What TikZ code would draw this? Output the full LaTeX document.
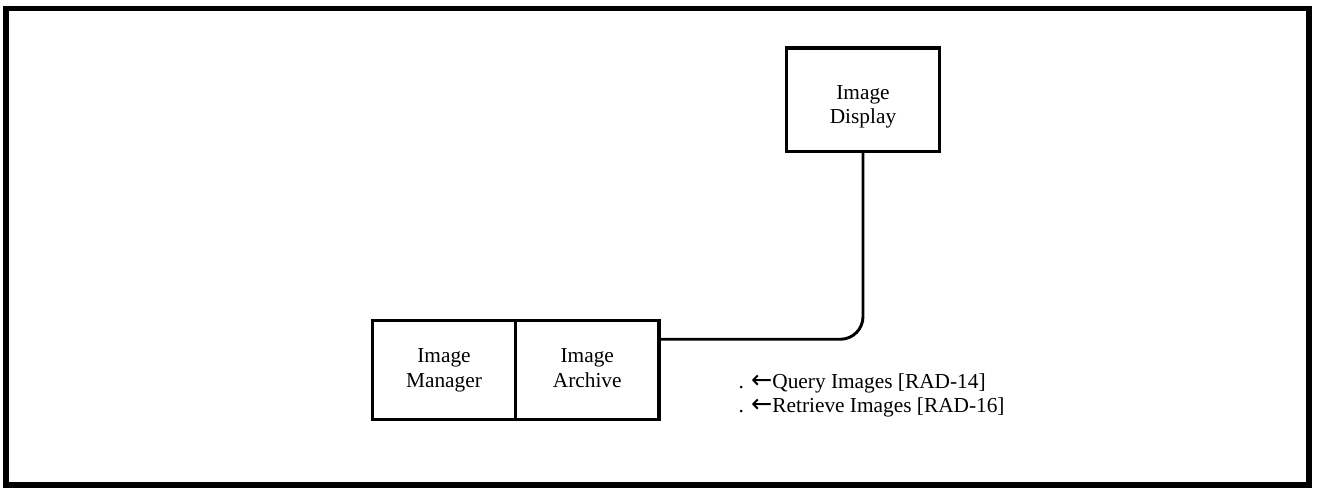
\documentclass[tikz,border=0pt]{standalone}
\usepackage{fontspec}
\setmainfont{Liberation Serif}
\newfontfamily\arrowfont{DejaVu Sans}
\usetikzlibrary{calc}
\definecolor{inkblack}{HTML}{000000}
\tikzset{
  actor/.style={draw=inkblack, line width=2.6pt, minimum height=74.25pt, align=center, inner sep=0pt},
  link/.style={line width=2.2pt, color=inkblack, rounded corners=17pt},
  frame/.style={line width=3.9pt, color=inkblack},
  every node/.append style={font=\fontsize{16}{18.5}\selectfont}
}
\newcommand{\larr}{{\arrowfont\fontsize{19}{18}\selectfont\char"2190}}

\begin{document}
\begin{tikzpicture}[x=0.75pt, y=-0.75pt]
\useasboundingbox (0,0) rectangle (1318,487);
\draw[frame] (6,8.5) rectangle (1309,485);
\node[actor, minimum width=107.25pt] (mgr) at (444,370) {Image\strut\\Manager\strut};
\node[actor, minimum width=107.6pt] (arch) at (587.25,370) {Image\strut\\Archive\strut};
\node[actor, minimum width=114.75pt, minimum height=77.6pt] (disp) at (863,99.75)
  {\raisebox{-5pt}[\height][\depth]{\begin{tabular}{@{}c@{}}Image\\Display\end{tabular}}};
\coordinate (out) at ($(arch.north east)!0.2!(arch.south east)$);
\draw[link] (out) -| (disp.south);
\node[anchor=west, align=left, font=\fontsize{16}{18}\selectfont] (msgs) at (734,395)
  {. \larr Query Images [RAD-14]\\. \larr Retrieve Images [RAD-16]};
\end{tikzpicture}
\end{document}
